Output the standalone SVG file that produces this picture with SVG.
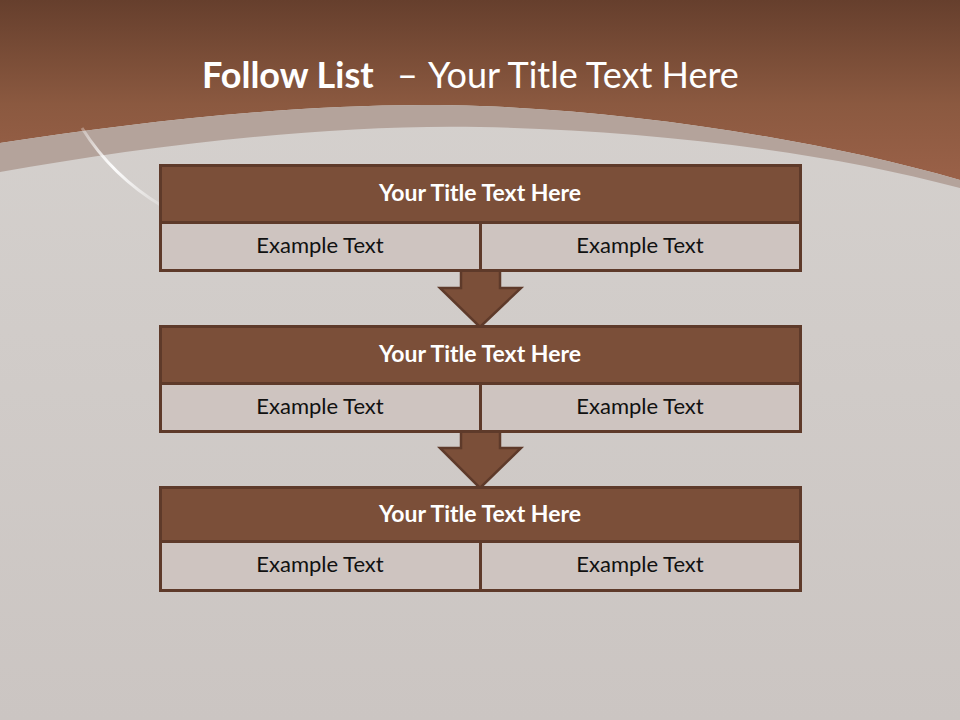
<svg xmlns="http://www.w3.org/2000/svg" width="960" height="720" viewBox="0 0 960 720">
<defs>
<linearGradient id="bgTop" x1="0" y1="0" x2="0" y2="1">
<stop offset="0" stop-color="#663f2d"/>
<stop offset="0.55" stop-color="#8b5940"/>
<stop offset="1" stop-color="#9c6249"/>
</linearGradient>
<linearGradient id="bgGray" x1="0" y1="0" x2="0" y2="1">
<stop offset="0" stop-color="#d6d2cf"/>
<stop offset="1" stop-color="#cbc5c2"/>
</linearGradient>
<linearGradient id="streak" x1="0" y1="0" x2="1" y2="1">
<stop offset="0" stop-color="#ffffff" stop-opacity="0.3"/>
<stop offset="0.45" stop-color="#ffffff" stop-opacity="0.95"/>
<stop offset="1" stop-color="#ffffff" stop-opacity="0.2"/>
</linearGradient>
<style>
.title{font-family:Lato,"Open Sans",sans-serif;font-size:36px;fill:#ffffff}
.hdr{fill:#7b4f39;stroke:#5e3a2a;stroke-width:3}
.cell{fill:#cec4c0;stroke:#5e3a2a;stroke-width:3}
.ht{font-family:Lato,"Open Sans",sans-serif;font-size:23px;font-weight:bold;fill:#ffffff;text-anchor:middle}
.ct{font-family:Lato,"Open Sans",sans-serif;font-size:22px;fill:#111111;text-anchor:middle}
.arr{fill:#7b4f39;stroke:#5e3a2a;stroke-width:2.5;stroke-linejoin:miter}
</style>
</defs>
<rect x="0" y="0" width="960" height="720" fill="url(#bgGray)"/>
<path d="M0,0 H960 V190 L960,180 C820,140 640,112 480,106 C330,100 150,120 0,143 Z" fill="url(#bgTop)"/>
<path d="M0,143 C150,120 330,100 480,106 C640,112 820,140 960,180 V190 L960,188 C820,150 640,130 480,127 C330,124 150,145 0,172 Z" fill="#b4a39b"/>
<path d="M82,128 Q112,176 162,206" fill="none" stroke="url(#streak)" stroke-width="3"/>
<text x="202" y="88" class="title"><tspan font-weight="bold">Follow List</tspan><tspan x="397">–</tspan><tspan x="428">Your Title Text Here</tspan></text>
<g id="connectors">
<path class="arr" d="M461,271 V288 H440 L480,327 L521,288 H500 V271"/>
<path class="arr" d="M461,432 V448 H440 L480,488 L521,448 H500 V432"/>
</g>
<g id="node1">
<rect class="hdr" x="160.5" y="165.5" width="640" height="57"/>
<rect class="cell" x="160.5" y="222.5" width="320" height="48"/>
<rect class="cell" x="480.5" y="222.5" width="320" height="48"/>
<text class="ht" x="480" y="201">Your Title Text Here</text>
<text class="ct" x="320" y="253">Example Text</text>
<text class="ct" x="640" y="253">Example Text</text>
</g>
<g id="node2">
<rect class="hdr" x="160.5" y="326.5" width="640" height="57"/>
<rect class="cell" x="160.5" y="383.5" width="320" height="48"/>
<rect class="cell" x="480.5" y="383.5" width="320" height="48"/>
<text class="ht" x="480" y="362">Your Title Text Here</text>
<text class="ct" x="320" y="414">Example Text</text>
<text class="ct" x="640" y="414">Example Text</text>
</g>
<g id="node3">
<rect class="hdr" x="160.5" y="487.5" width="640" height="54"/>
<rect class="cell" x="160.5" y="541.5" width="320" height="49"/>
<rect class="cell" x="480.5" y="541.5" width="320" height="49"/>
<text class="ht" x="480" y="522">Your Title Text Here</text>
<text class="ct" x="320" y="572">Example Text</text>
<text class="ct" x="640" y="572">Example Text</text>
</g>
</svg>
